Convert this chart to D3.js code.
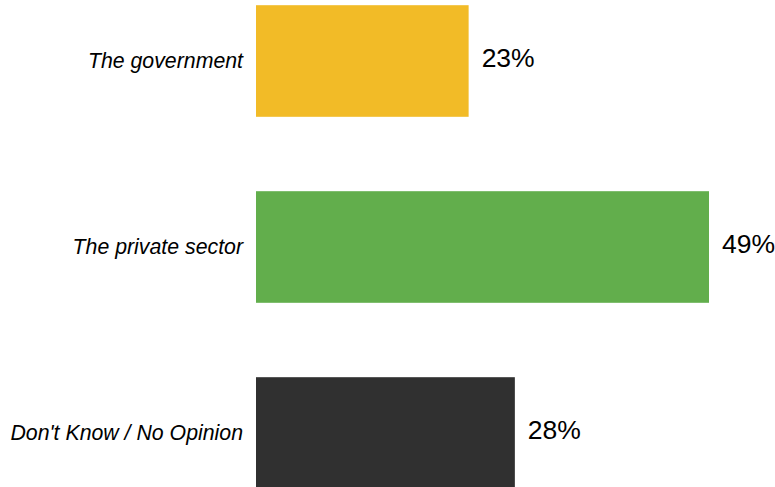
<!DOCTYPE html>
<html><head><meta charset="utf-8">
<script src="https://cdn.jsdelivr.net/npm/d3@7"></script>
<style>body{margin:0;background:#fff;}svg{display:block;}</style>
</head><body>
<svg id="chart" width="775" height="487"></svg>
<script>
const categories = ["The government", "The private sector", "Don't Know / No Opinion"];
const values = [23, 49, 28];
const colors = ["#F2BB27", "#62AE4C", "#303030"];

const svg = d3.select("#chart");
const x = d3.scaleLinear().domain([0, 49]).range([256, 709]);
const y = d3.scaleBand().domain(categories).range([-32, 526]).paddingInner(0.4).paddingOuter(0.2);

svg.selectAll("rect.bar").data(categories).join("rect")
  .attr("class", "bar")
  .attr("x", x(0))
  .attr("y", d => y(d))
  .attr("width", (d, i) => x(values[i]) - x(0))
  .attr("height", y.bandwidth())
  .attr("fill", (d, i) => colors[i]);

svg.selectAll("text.cat").data(categories).join("text")
  .attr("class", "cat")
  .attr("x", x(0) - 13)
  .attr("y", d => y(d) + y.bandwidth() / 2)
  .attr("dy", "0.35em")
  .attr("text-anchor", "end")
  .attr("font-family", "Liberation Sans, Arial, sans-serif")
  .attr("font-style", "italic")
  .attr("font-size", 21.3)
  .attr("fill", "#000")
  .text(d => d);

svg.selectAll("text.val").data(categories).join("text")
  .attr("class", "val")
  .attr("x", (d, i) => x(values[i]) + 13)
  .attr("y", d => y(d) + y.bandwidth() / 2 - 3)
  .attr("dy", "0.35em")
  .attr("font-family", "Liberation Sans, Arial, sans-serif")
  .attr("font-size", 26.5)
  .attr("fill", "#000")
  .text((d, i) => values[i] + "%");
</script>
</body></html>
